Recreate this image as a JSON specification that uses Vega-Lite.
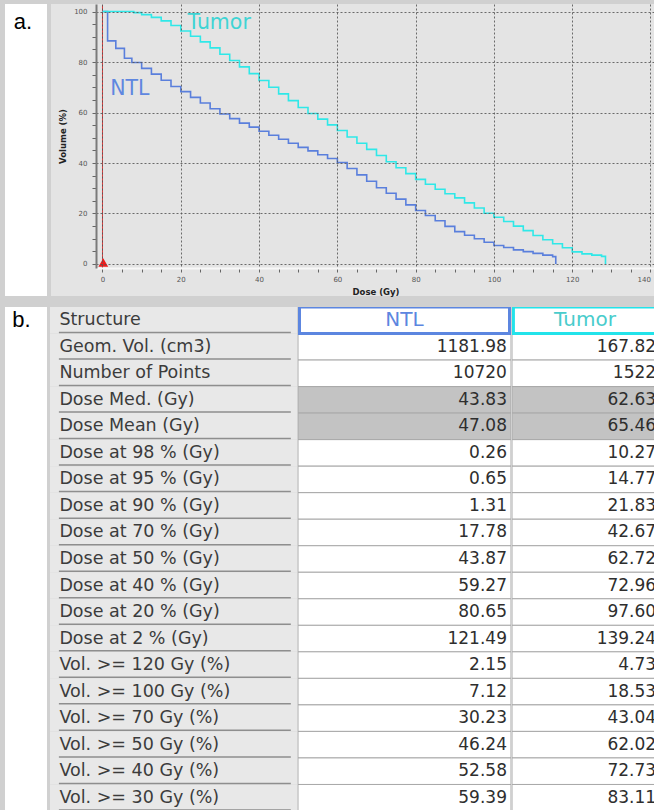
{
  "$schema": "https://vega.github.io/schema/vega-lite/v6.json",
  "background": "#d0d0d0",
  "padding": {"left": 5, "top": 4, "right": 0, "bottom": 0},
  "spacing": 10,
  "config": {"view": {"stroke": null}, "font": "DejaVu Sans"},
  "datasets": {
    "dvh": [
      {"structure": "NTL", "dose": 0, "volume": 100},
      {"structure": "NTL", "dose": 1.3, "volume": 88.4},
      {"structure": "NTL", "dose": 3.4, "volume": 85.4},
      {"structure": "NTL", "dose": 5.6, "volume": 81.5},
      {"structure": "NTL", "dose": 7.5, "volume": 79.8},
      {"structure": "NTL", "dose": 10, "volume": 77.5},
      {"structure": "NTL", "dose": 12.5, "volume": 75.2},
      {"structure": "NTL", "dose": 15, "volume": 72.8},
      {"structure": "NTL", "dose": 17.5, "volume": 70.3},
      {"structure": "NTL", "dose": 20, "volume": 68.3},
      {"structure": "NTL", "dose": 22.5, "volume": 66},
      {"structure": "NTL", "dose": 25, "volume": 63.8},
      {"structure": "NTL", "dose": 27.5, "volume": 61.5},
      {"structure": "NTL", "dose": 30, "volume": 59.4},
      {"structure": "NTL", "dose": 32.5, "volume": 57.6},
      {"structure": "NTL", "dose": 35, "volume": 55.8},
      {"structure": "NTL", "dose": 37.5, "volume": 54.2},
      {"structure": "NTL", "dose": 40, "volume": 52.6},
      {"structure": "NTL", "dose": 42.5, "volume": 51},
      {"structure": "NTL", "dose": 45, "volume": 49.4},
      {"structure": "NTL", "dose": 47.5, "volume": 47.8},
      {"structure": "NTL", "dose": 50, "volume": 46.2},
      {"structure": "NTL", "dose": 52.5, "volume": 44.8},
      {"structure": "NTL", "dose": 55, "volume": 43.3},
      {"structure": "NTL", "dose": 57.5, "volume": 41.8},
      {"structure": "NTL", "dose": 60, "volume": 40.2},
      {"structure": "NTL", "dose": 62.5, "volume": 37.8},
      {"structure": "NTL", "dose": 65, "volume": 35.3},
      {"structure": "NTL", "dose": 67.5, "volume": 32.8},
      {"structure": "NTL", "dose": 70, "volume": 30.2},
      {"structure": "NTL", "dose": 72.5, "volume": 28},
      {"structure": "NTL", "dose": 75, "volume": 25.7},
      {"structure": "NTL", "dose": 77.5, "volume": 23.4},
      {"structure": "NTL", "dose": 80, "volume": 21.2},
      {"structure": "NTL", "dose": 82.5, "volume": 19.2},
      {"structure": "NTL", "dose": 85, "volume": 17.1},
      {"structure": "NTL", "dose": 87.5, "volume": 14.9},
      {"structure": "NTL", "dose": 90, "volume": 12.8},
      {"structure": "NTL", "dose": 92.5, "volume": 11.4},
      {"structure": "NTL", "dose": 95, "volume": 10},
      {"structure": "NTL", "dose": 97.5, "volume": 8.6},
      {"structure": "NTL", "dose": 100, "volume": 7.3},
      {"structure": "NTL", "dose": 102.5, "volume": 6.5},
      {"structure": "NTL", "dose": 105, "volume": 5.6},
      {"structure": "NTL", "dose": 107.5, "volume": 4.9},
      {"structure": "NTL", "dose": 110, "volume": 4.2},
      {"structure": "NTL", "dose": 112.5, "volume": 3.5},
      {"structure": "NTL", "dose": 115, "volume": 2.9},
      {"structure": "NTL", "dose": 115.8, "volume": 0},
      {"structure": "Tumor", "dose": 0, "volume": 100},
      {"structure": "Tumor", "dose": 8, "volume": 99.6},
      {"structure": "Tumor", "dose": 10, "volume": 98.8},
      {"structure": "Tumor", "dose": 12.5, "volume": 97.7},
      {"structure": "Tumor", "dose": 15, "volume": 96.3},
      {"structure": "Tumor", "dose": 17.5, "volume": 94.5},
      {"structure": "Tumor", "dose": 20, "volume": 92.3},
      {"structure": "Tumor", "dose": 22.5, "volume": 90.2},
      {"structure": "Tumor", "dose": 25, "volume": 88},
      {"structure": "Tumor", "dose": 27.5, "volume": 85.6},
      {"structure": "Tumor", "dose": 30, "volume": 83.1},
      {"structure": "Tumor", "dose": 32.5, "volume": 80.6},
      {"structure": "Tumor", "dose": 35, "volume": 78.1},
      {"structure": "Tumor", "dose": 37.5, "volume": 75.4},
      {"structure": "Tumor", "dose": 40, "volume": 72.7},
      {"structure": "Tumor", "dose": 42.5, "volume": 70},
      {"structure": "Tumor", "dose": 45, "volume": 67.4},
      {"structure": "Tumor", "dose": 47.5, "volume": 64.7},
      {"structure": "Tumor", "dose": 50, "volume": 62},
      {"structure": "Tumor", "dose": 52.5, "volume": 59.6},
      {"structure": "Tumor", "dose": 55, "volume": 57.4},
      {"structure": "Tumor", "dose": 57.5, "volume": 55.1},
      {"structure": "Tumor", "dose": 60, "volume": 52.9},
      {"structure": "Tumor", "dose": 62.5, "volume": 50.3},
      {"structure": "Tumor", "dose": 65, "volume": 47.8},
      {"structure": "Tumor", "dose": 67.5, "volume": 45.4},
      {"structure": "Tumor", "dose": 70, "volume": 43},
      {"structure": "Tumor", "dose": 72.5, "volume": 40.5},
      {"structure": "Tumor", "dose": 75, "volume": 38.1},
      {"structure": "Tumor", "dose": 77.5, "volume": 35.8},
      {"structure": "Tumor", "dose": 80, "volume": 33.5},
      {"structure": "Tumor", "dose": 82.5, "volume": 31.6},
      {"structure": "Tumor", "dose": 85, "volume": 29.6},
      {"structure": "Tumor", "dose": 87.5, "volume": 27.8},
      {"structure": "Tumor", "dose": 90, "volume": 26.2},
      {"structure": "Tumor", "dose": 92.5, "volume": 24.2},
      {"structure": "Tumor", "dose": 95, "volume": 22.2},
      {"structure": "Tumor", "dose": 97.5, "volume": 20.1},
      {"structure": "Tumor", "dose": 100, "volume": 18.5},
      {"structure": "Tumor", "dose": 102.5, "volume": 16.8},
      {"structure": "Tumor", "dose": 105, "volume": 15},
      {"structure": "Tumor", "dose": 107.5, "volume": 13.2},
      {"structure": "Tumor", "dose": 110, "volume": 11.3},
      {"structure": "Tumor", "dose": 112.5, "volume": 9.6},
      {"structure": "Tumor", "dose": 115, "volume": 8},
      {"structure": "Tumor", "dose": 117.5, "volume": 6.4},
      {"structure": "Tumor", "dose": 120, "volume": 4.8},
      {"structure": "Tumor", "dose": 122.5, "volume": 4},
      {"structure": "Tumor", "dose": 125, "volume": 3.5},
      {"structure": "Tumor", "dose": 127.5, "volume": 3},
      {"structure": "Tumor", "dose": 128.5, "volume": 0}
    ],
    "table": [
      {"row": "Structure", "kind": "header", "NTL": "NTL", "Tumor": "Tumor"},
      {"row": "Geom. Vol. (cm3)", "kind": "info", "NTL": "1181.98", "Tumor": "167.82"},
      {"row": "Number of Points", "kind": "info", "NTL": "10720", "Tumor": "1522"},
      {"row": "Dose Med. (Gy)", "kind": "summary", "NTL": "43.83", "Tumor": "62.63"},
      {"row": "Dose Mean (Gy)", "kind": "summary", "NTL": "47.08", "Tumor": "65.46"},
      {"row": "Dose at 98 % (Gy)", "kind": "stat", "NTL": "0.26", "Tumor": "10.27"},
      {"row": "Dose at 95 % (Gy)", "kind": "stat", "NTL": "0.65", "Tumor": "14.77"},
      {"row": "Dose at 90 % (Gy)", "kind": "stat", "NTL": "1.31", "Tumor": "21.83"},
      {"row": "Dose at 70 % (Gy)", "kind": "stat", "NTL": "17.78", "Tumor": "42.67"},
      {"row": "Dose at 50 % (Gy)", "kind": "stat", "NTL": "43.87", "Tumor": "62.72"},
      {"row": "Dose at 40 % (Gy)", "kind": "stat", "NTL": "59.27", "Tumor": "72.96"},
      {"row": "Dose at 20 % (Gy)", "kind": "stat", "NTL": "80.65", "Tumor": "97.60"},
      {"row": "Dose at 2 % (Gy)", "kind": "stat", "NTL": "121.49", "Tumor": "139.24"},
      {"row": "Vol. >= 120 Gy (%)", "kind": "stat", "NTL": "2.15", "Tumor": "4.73"},
      {"row": "Vol. >= 100 Gy (%)", "kind": "stat", "NTL": "7.12", "Tumor": "18.53"},
      {"row": "Vol. >= 70 Gy (%)", "kind": "stat", "NTL": "30.23", "Tumor": "43.04"},
      {"row": "Vol. >= 50 Gy (%)", "kind": "stat", "NTL": "46.24", "Tumor": "62.02"},
      {"row": "Vol. >= 40 Gy (%)", "kind": "stat", "NTL": "52.58", "Tumor": "72.73"},
      {"row": "Vol. >= 30 Gy (%)", "kind": "stat", "NTL": "59.39", "Tumor": "83.11"}
    ]
  },
  "vconcat": [
    {
      "hconcat": [
        {
          "width": 42, "height": 292,
          "view": {"fill": "#ffffff"},
          "data": {"values": [{"t": "a."}]},
          "mark": {"type": "text", "font": "Liberation Sans", "fontSize": 22, "align": "left", "baseline": "middle", "color": "#000000"},
          "encoding": {
            "text": {"field": "t"},
            "x": {"datum": 0.21, "type": "quantitative", "scale": {"domain": [0, 1]}, "axis": null},
            "y": {"datum": 0.938, "type": "quantitative", "scale": {"domain": [0, 1]}, "axis": null}
          }
        },
        {
          "width": 559, "height": 264,
          "encoding": {
            "x": {
              "field": "dose", "type": "quantitative",
              "scale": {"domain": [-1.66, 141.15], "nice": false, "zero": false},
              "axis": {
                "title": "Dose (Gy)", "zindex": 1,
                "values": [0,5,10,15,20,25,30,35,40,45,50,55,60,65,70,75,80,85,90,95,100,105,110,115,120,125,130,135,140],
                "labelExpr": "datum.value % 20 === 0 ? datum.label : ''",
                "labelOverlap": false, "labelFlush": 5,
                "labelFont": "DejaVu Sans", "labelFontSize": 7, "labelColor": "#555555", "labelPadding": 3,
                "tickSize": 4, "tickColor": "#666666",
                "domainColor": "#f8f8f8", "domainWidth": 2,
                "grid": true, "gridDash": [2, 2], "gridColor": "#555555", "gridWidth": 1,
                "gridOpacity": {"condition": {"test": "datum.value % 20 === 0", "value": 0.85}, "value": 0},
                "titleFont": "DejaVu Sans", "titleFontSize": 8.5, "titleFontWeight": "bold", "titleColor": "#222222", "titlePadding": 5
              }
            },
            "y": {
              "field": "volume", "type": "quantitative",
              "scale": {"domain": [-1.6, 103], "nice": false, "zero": false},
              "axis": {
                "title": "Volume (%)", "zindex": 1,
                "values": [0,5,10,15,20,25,30,35,40,45,50,55,60,65,70,75,80,85,90,95,100],
                "labelExpr": "datum.value % 20 === 0 ? datum.label : ''",
                "labelOverlap": false,
                "labelFont": "DejaVu Sans", "labelFontSize": 7, "labelColor": "#555555", "labelPadding": 5,
                "tickSize": 4, "tickColor": "#666666",
                "domainColor": "#7a7a7a", "domainWidth": 2,
                "grid": true, "gridDash": [2, 2], "gridColor": "#555555", "gridWidth": 1,
                "gridOpacity": {"condition": {"test": "datum.value % 20 === 0", "value": 0.85}, "value": 0},
                "titleFont": "DejaVu Sans", "titleFontSize": 8.5, "titleFontWeight": "bold", "titleColor": "#222222", "titlePadding": 6
              }
            }
          },
          "layer": [
            {
              "data": {"values": [{"dose": -13.16, "dose2": 141.15, "volume": -12.7, "volume2": 103}]},
              "mark": {"type": "rect", "color": "#e4e4e4"},
              "encoding": {
                "x2": {"field": "dose2"},
                "y2": {"field": "volume2"}
              }
            },
            {
              "data": {"values": [{"dose": 0, "volume": -1.6, "volume2": 102.5}]},
              "mark": {"type": "rule", "color": "#e03a3a", "strokeWidth": 1},
              "encoding": {
                "y2": {"field": "volume2"}
              }
            },
            {
              "data": {"name": "dvh"},
              "mark": {"type": "line", "interpolate": "step-after", "strokeWidth": 1.6},
              "encoding": {
                "color": {"field": "structure", "type": "nominal", "scale": {"domain": ["NTL", "Tumor"], "range": ["#5a7fdc", "#2fe8e8"]}, "legend": null}
              }
            },
            {
              "data": {"values": [{"dose": 0.2, "volume": 0.6}]},
              "mark": {"type": "point", "shape": "triangle-up", "filled": true, "color": "#ee1c1c", "size": 95, "opacity": 1}
            },
            {
              "data": {"values": [
                {"structure": "Tumor", "dose": 29.8, "volume": 95.6},
                {"structure": "NTL", "dose": 7.0, "volume": 69.4}
              ]},
              "mark": {"type": "text", "fontSize": 20.5, "align": "center", "baseline": "middle", "font": "DejaVu Sans"},
              "encoding": {
                "text": {"field": "structure"},
                "color": {"condition": {"test": "datum.structure === 'NTL'", "value": "#5f87e0"}, "value": "#3fd4d4"}
              }
            }
          ]
        }
      ],
      "spacing": 3
    },
    {
      "hconcat": [
        {
          "width": 42, "height": 504,
          "view": {"fill": "#ffffff"},
          "data": {"values": [{"row": "Structure", "t": "b."}]},
          "mark": {"type": "text", "font": "Liberation Sans", "fontSize": 22, "align": "left", "baseline": "middle", "color": "#000000"},
          "encoding": {
            "text": {"field": "t"},
            "x": {"datum": 0.17, "type": "quantitative", "scale": {"domain": [0, 1]}, "axis": null},
            "y": {"field": "row", "type": "nominal", "sort": null, "axis": null, "scale": {"paddingInner": 0, "paddingOuter": 0, "domain": ["Structure","Geom. Vol. (cm3)","Number of Points","Dose Med. (Gy)","Dose Mean (Gy)","Dose at 98 % (Gy)","Dose at 95 % (Gy)","Dose at 90 % (Gy)","Dose at 70 % (Gy)","Dose at 50 % (Gy)","Dose at 40 % (Gy)","Dose at 20 % (Gy)","Dose at 2 % (Gy)","Vol. >= 120 Gy (%)","Vol. >= 100 Gy (%)","Vol. >= 70 Gy (%)","Vol. >= 50 Gy (%)","Vol. >= 40 Gy (%)","Vol. >= 30 Gy (%)"]}}
          }
        },
        {
          "hconcat": [
            {
              "width": 247, "height": 504,
              "data": {"name": "table"},
              "encoding": {
                "y": {"field": "row", "type": "nominal", "sort": null, "axis": null, "scale": {"paddingInner": 0, "paddingOuter": 0, "domain": ["Structure","Geom. Vol. (cm3)","Number of Points","Dose Med. (Gy)","Dose Mean (Gy)","Dose at 98 % (Gy)","Dose at 95 % (Gy)","Dose at 90 % (Gy)","Dose at 70 % (Gy)","Dose at 50 % (Gy)","Dose at 40 % (Gy)","Dose at 20 % (Gy)","Dose at 2 % (Gy)","Vol. >= 120 Gy (%)","Vol. >= 100 Gy (%)","Vol. >= 70 Gy (%)","Vol. >= 50 Gy (%)","Vol. >= 40 Gy (%)","Vol. >= 30 Gy (%)"]}}
              },
              "layer": [
                {
                  "mark": {"type": "rect", "color": "#e8e8e8"},
                  "encoding": {
                    "x": {"datum": 0, "type": "quantitative", "scale": {"domain": [0, 1]}, "axis": null},
                    "x2": {"datum": 1}
                  }
                },
                {
                  "mark": {"type": "rule", "color": "#8e8e8e", "strokeWidth": 1.5},
                  "encoding": {
                    "y": {"field": "row", "type": "nominal", "sort": null, "axis": null, "bandPosition": 0.96},
                    "x": {"datum": 0.036, "type": "quantitative", "scale": {"domain": [0, 1]}, "axis": null},
                    "x2": {"datum": 0.975}
                  }
                },
                {
                  "mark": {"type": "text", "align": "left", "baseline": "middle", "fontSize": 17.5, "color": "#3c3c3c", "font": "DejaVu Sans"},
                  "encoding": {
                    "x": {"datum": 0.038, "type": "quantitative", "scale": {"domain": [0, 1]}, "axis": null},
                    "text": {"field": "row"}
                  }
                }
              ]
            },
            {
              "width": 213, "height": 504,
              "data": {"name": "table"},
              "encoding": {
                "y": {"field": "row", "type": "nominal", "sort": null, "axis": null, "scale": {"paddingInner": 0, "paddingOuter": 0, "domain": ["Structure","Geom. Vol. (cm3)","Number of Points","Dose Med. (Gy)","Dose Mean (Gy)","Dose at 98 % (Gy)","Dose at 95 % (Gy)","Dose at 90 % (Gy)","Dose at 70 % (Gy)","Dose at 50 % (Gy)","Dose at 40 % (Gy)","Dose at 20 % (Gy)","Dose at 2 % (Gy)","Vol. >= 120 Gy (%)","Vol. >= 100 Gy (%)","Vol. >= 70 Gy (%)","Vol. >= 50 Gy (%)","Vol. >= 40 Gy (%)","Vol. >= 30 Gy (%)"]}}
              },
              "layer": [
                {
                  "transform": [{"filter": "datum.kind !== 'header'"}],
                  "mark": {"type": "rect", "stroke": "#a9a9a9", "strokeWidth": 1, "clip": true},
                  "encoding": {
                    "x": {"datum": 0, "type": "quantitative", "scale": {"domain": [0, 1]}, "axis": null},
                    "x2": {"datum": 1},
                    "fill": {"condition": {"test": "datum.kind === 'summary'", "value": "#c3c3c3"}, "value": "#ffffff"}
                  }
                },
                {
                  "transform": [{"filter": "datum.kind === 'header'"}],
                  "mark": {"type": "rect", "fill": "#ffffff", "stroke": "#5c86e0", "strokeWidth": 3, "clip": true},
                  "encoding": {
                    "x": {"datum": 0.007, "type": "quantitative", "scale": {"domain": [0, 1]}, "axis": null},
                    "x2": {"datum": 0.993}
                  }
                },
                {
                  "transform": [{"filter": "datum.kind !== 'header'"}],
                  "mark": {"type": "text", "align": "right", "baseline": "middle", "fontSize": 17, "color": "#2e2e2e", "font": "DejaVu Sans"},
                  "encoding": {
                    "x": {"datum": 0.981, "type": "quantitative", "scale": {"domain": [0, 1]}, "axis": null},
                    "text": {"field": "NTL"}
                  }
                },
                {
                  "transform": [{"filter": "datum.kind === 'header'"}],
                  "mark": {"type": "text", "align": "center", "baseline": "middle", "fontSize": 20, "color": "#5c86e0", "font": "DejaVu Sans"},
                  "encoding": {
                    "x": {"datum": 0.5, "type": "quantitative", "scale": {"domain": [0, 1]}, "axis": null},
                    "text": {"field": "NTL"}
                  }
                }
              ]
            },
            {
              "width": 142, "height": 504,
              "data": {"name": "table"},
              "encoding": {
                "y": {"field": "row", "type": "nominal", "sort": null, "axis": null, "scale": {"paddingInner": 0, "paddingOuter": 0, "domain": ["Structure","Geom. Vol. (cm3)","Number of Points","Dose Med. (Gy)","Dose Mean (Gy)","Dose at 98 % (Gy)","Dose at 95 % (Gy)","Dose at 90 % (Gy)","Dose at 70 % (Gy)","Dose at 50 % (Gy)","Dose at 40 % (Gy)","Dose at 20 % (Gy)","Dose at 2 % (Gy)","Vol. >= 120 Gy (%)","Vol. >= 100 Gy (%)","Vol. >= 70 Gy (%)","Vol. >= 50 Gy (%)","Vol. >= 40 Gy (%)","Vol. >= 30 Gy (%)"]}}
              },
              "layer": [
                {
                  "transform": [{"filter": "datum.kind !== 'header'"}],
                  "mark": {"type": "rect", "stroke": "#a9a9a9", "strokeWidth": 1, "clip": true},
                  "encoding": {
                    "x": {"datum": 0, "type": "quantitative", "scale": {"domain": [0, 1]}, "axis": null},
                    "x2": {"datum": 1.1},
                    "fill": {"condition": {"test": "datum.kind === 'summary'", "value": "#c3c3c3"}, "value": "#ffffff"}
                  }
                },
                {
                  "transform": [{"filter": "datum.kind === 'header'"}],
                  "mark": {"type": "rect", "fill": "#ffffff", "stroke": "#22e3ea", "strokeWidth": 3, "clip": true},
                  "encoding": {
                    "x": {"datum": 0.01, "type": "quantitative", "scale": {"domain": [0, 1]}, "axis": null},
                    "x2": {"datum": 1.1}
                  }
                },
                {
                  "transform": [{"filter": "datum.kind !== 'header'"}],
                  "mark": {"type": "text", "align": "right", "baseline": "middle", "fontSize": 17, "color": "#2e2e2e", "font": "DejaVu Sans", "clip": true},
                  "encoding": {
                    "x": {"datum": 1.015, "type": "quantitative", "scale": {"domain": [0, 1]}, "axis": null},
                    "text": {"field": "Tumor"}
                  }
                },
                {
                  "transform": [{"filter": "datum.kind === 'header'"}],
                  "mark": {"type": "text", "align": "center", "baseline": "middle", "fontSize": 20, "color": "#49cccc", "font": "DejaVu Sans"},
                  "encoding": {
                    "x": {"datum": 0.514, "type": "quantitative", "scale": {"domain": [0, 1]}, "axis": null},
                    "text": {"field": "Tumor"}
                  }
                }
              ]
            }
          ],
          "spacing": 1
        }
      ],
      "spacing": 3
    }
  ]
}
